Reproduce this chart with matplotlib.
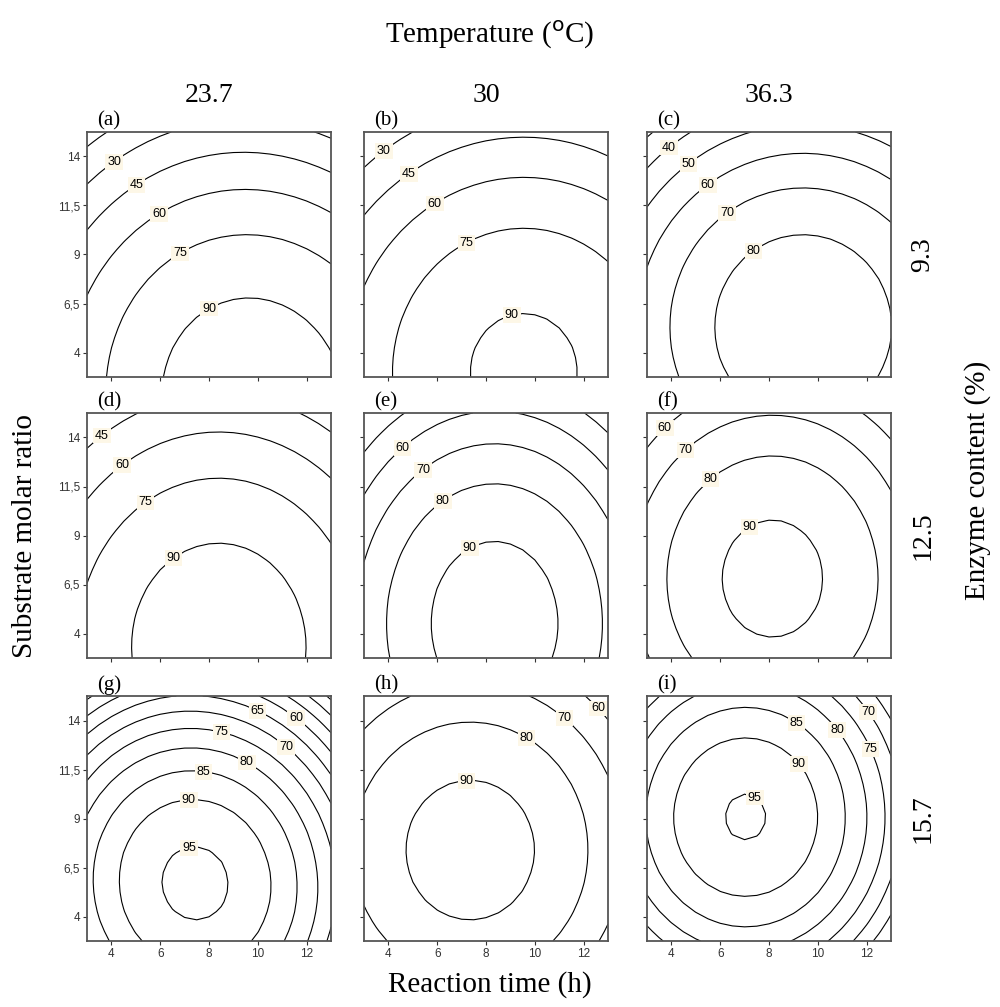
import numpy as np
import matplotlib
matplotlib.use('Agg')
import matplotlib.pyplot as plt

# axes ranges and ticks (reaction time on x, substrate molar ratio on y)
time_range = (3, 13)
ratio_range = (2.75, 15.25)
time_ticks = [4, 6, 8, 10, 12]
ratio_ticks = [4, 6.5, 9, 11.5, 14]
ratio_tick_labels = ['4', '6,5', '9', '11,5', '14']

temperatures = ['23.7', '30', '36.3']
enzyme_contents = ['9.3', '12.5', '15.7']
panel_letters = ['a', 'b', 'c', 'd', 'e', 'f', 'g', 'h', 'i']

# response surface of each panel (quadratic in time and ratio)
peak_yield = [99.4, 93.0, 87.9, 99.1, 95.3, 92.95, 96.2, 94.25, 95.46]
time_opt = [9.8, 9.55, 9.4, 8.4, 8.35, 8.14, 7.43, 7.35, 7.04]
ratio_opt = [1.5, 3.0, 5.3, 3.33, 4.5, 6.8, 5.7, 7.39, 9.07]
curv_time = [0.67, 0.62, 0.60, 0.71, 0.78, 0.69, 0.64, 0.61, 0.625]
curv_ratio = [0.337, 0.334, 0.355, 0.326, 0.30, 0.33, 0.34, 0.334, 0.333]
curv_cross = [-0.04, 0.0, 0.0, 0.0, 0.0, 0.0, -0.03, 0.0, 0.0]

# contour levels drawn in each panel
levels = [
    [15, 30, 45, 60, 75, 90],
    [15, 30, 45, 60, 75, 90],
    [30, 40, 50, 60, 70, 80],
    [30, 45, 60, 75, 90],
    [50, 60, 70, 80, 90],
    [50, 60, 70, 80, 90],
    [45, 50, 55, 60, 65, 70, 75, 80, 85, 90, 95],
    [40, 50, 60, 70, 80, 90],
    [50, 55, 60, 65, 70, 75, 80, 85, 90, 95],
]

# where the contour labels sit (layout)
label_pos = {
    'a': [(4.06, 13.82), (4.96, 12.7), (5.94, 11.12), (6.8, 9.07), (7.9, 6.42)],
    'b': [(3.73, 14.43), (4.76, 13.26), (5.86, 11.68), (7.2, 9.59), (9.08, 5.71)],
    'c': [(3.82, 14.59), (4.71, 13.62), (5.49, 12.55), (6.27, 11.12), (7.37, 9.18)],
    'd': [(3.41, 14.43), (4.31, 12.8), (5.29, 10.86), (6.51, 7.9)],
    'e': [(4.35, 13.82), (5.29, 12.55), (6.14, 10.91), (7.37, 8.26)],
    'f': [(3.57, 14.69), (4.47, 13.52), (5.53, 11.98), (7.2, 9.43)],
    'g': [(9.98, 14.48), (11.53, 14.08), (8.51, 13.41), (11.12, 12.6),
          (9.53, 11.83), (7.78, 11.37), (7.16, 10.2), (7.16, 7.8)],
    'h': [(12.43, 14.43), (11.08, 13.92), (9.65, 13.1), (7.2, 10.91)],
    'i': [(11.82, 14.23), (11.98, 12.46), (10.59, 13.31), (9.04, 13.72),
          (9.04, 11.58), (7.41, 10.05)],
}

serif = ['Liberation Serif', 'DejaVu Serif']
sans = ['Liberation Sans', 'DejaVu Sans']
plt.rcParams['font.family'] = sans

fig = plt.figure(figsize=(10, 10.07), dpi=100)
W, H = 1000, 1007
col_left = [87, 364, 647]
row_top = [132, 413, 696]
aw, ah = 244, 245

tg = np.linspace(time_range[0], time_range[1], 21)
rg = np.linspace(ratio_range[0], ratio_range[1], 26)
T, R = np.meshgrid(tg, rg)

for k in range(9):
    r, c = divmod(k, 3)
    ax = fig.add_axes([col_left[c] / W, 1 - (row_top[r] + ah) / H, aw / W, ah / H])
    dT = T - time_opt[k]
    dR = R - ratio_opt[k]
    Z = (peak_yield[k] - curv_time[k] * dT ** 2 - curv_ratio[k] * dR ** 2
         + curv_cross[k] * dT * dR)
    cs = ax.contour(T, R, Z, levels=levels[k], colors='black', linewidths=0.8)
    texts = ax.clabel(cs, fmt='%d', fontsize=9, inline=False,
                      manual=label_pos[panel_letters[k]])
    for t in texts:
        t.set_rotation(0)
        t.set_bbox(dict(boxstyle='square,pad=0.15', fc='#fdf7e7', ec='none'))
    ax.set_xlim(time_range)
    ax.set_ylim(ratio_range)
    ax.set_xticks(time_ticks)
    ax.set_yticks(ratio_ticks)
    if c == 0:
        ax.set_yticklabels(ratio_tick_labels)
    else:
        ax.set_yticklabels([])
    if r == 2:
        ax.set_xticklabels([str(v) for v in time_ticks])
    else:
        ax.set_xticklabels([])
    ax.tick_params(direction='out', length=3, width=0.8, labelsize=8.5, pad=2,
                   colors='#333333')
    for s in ax.spines.values():
        s.set_color('#555555')
        s.set_linewidth(1.3)
    ax.text(0.04, 1.005, '(%s)' % panel_letters[k], transform=ax.transAxes,
            family=serif, fontsize=15, ha='left', va='bottom')
    if r == 0:
        ax.text(0.5, 1.1, temperatures[c], transform=ax.transAxes,
                family=serif, fontsize=20, ha='center', va='bottom')
    if c == 2:
        ax.text(1.08, 0.5, enzyme_contents[r], transform=ax.transAxes,
                family=serif, fontsize=20, ha='left', va='center', rotation=90)

fig.text(490 / W, 1 - 35 / H, 'Temperature ($^{\\rm o}$C)', family=serif,
         fontsize=21, ha='center', va='center')
fig.text(490 / W, 1 - 985 / H, 'Reaction time (h)', family=serif,
         fontsize=21, ha='center', va='center')
fig.text(25 / W, 1 - 536 / H, 'Substrate molar ratio', family=serif,
         fontsize=21, ha='center', va='center', rotation=90)
fig.text(978 / W, 1 - 480 / H, 'Enzyme content (%)', family=serif,
         fontsize=21, ha='center', va='center', rotation=90)

fig.savefig('out.png', dpi=100)
